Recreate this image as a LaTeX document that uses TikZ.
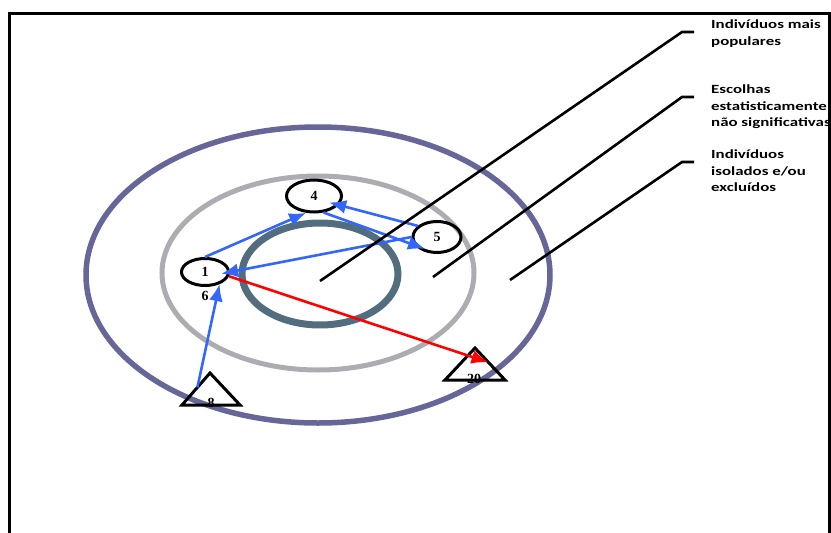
\documentclass[tikz,border=0pt]{standalone}
\usepackage{fontspec}
\newfontfamily\legendfont[FakeStretch=1.35]{Carlito}
\newfontfamily\digitfont{Liberation Serif}
\usetikzlibrary{calc,arrows.meta,shapes.geometric}
\definecolor{ringOuter}{RGB}{102,102,153}
\definecolor{ringMiddle}{RGB}{172,172,178}
\definecolor{ringInner}{RGB}{82,110,126}
\definecolor{choiceBlue}{RGB}{51,102,255}

\begin{document}
\begin{tikzpicture}[x=1pt, y=-1pt,
    every node/.style={font=\digitfont\fontsize{14}{16}\selectfont\bfseries},
    memberNode/.style={ellipse, draw, line width=3pt, inner sep=0pt},
    choiceArrow/.style={-{Latex[length=17pt,width=14pt]}, line width=2.6pt, choiceBlue},
    rejectArrow/.style={-{Latex[length=17pt,width=14pt]}, line width=2.6pt, red},
    triShape/.style={line width=3pt, line join=miter},
    legendText/.style={font=\legendfont\fontsize{12.5}{16.5}\selectfont\bfseries, align=left, anchor=north west, inner sep=0pt},
    leader/.style={line width=2.6pt}]

\useasboundingbox (0,0) rectangle (831,533);

% Frame (bottom edge off the page)
\draw[line width=3.5pt] (9.5,533) -- (9.5,13.5) -- (830,13.5) -- (830,533);

% Rings of the target
\draw[ringOuter, line width=5.5pt] (318,275) ellipse [x radius=232, y radius=148];
\draw[ringMiddle, line width=5pt] (318,273) ellipse [x radius=156, y radius=97];
\draw[ringInner, line width=7pt] (320,274) ellipse [x radius=78, y radius=51];

% Members
\node[memberNode, minimum width=47pt, minimum height=27pt] (n1) at (205,272) {1};
\node[memberNode, minimum width=55pt, minimum height=32pt] (n4) at (314,196) {4};
\node[memberNode, minimum width=48pt, minimum height=31pt] (n5) at (437,237) {5};
\node (n6) at (205,296) {6};

% Triangles (rejected ones)
\draw[triShape] (210,373) coordinate (a8) -- (240,405) coordinate (r8) -- (182,405) coordinate (l8) -- cycle;
\draw[triShape] (475,348) coordinate (a20) -- (505,380) coordinate (r20) -- (445,380) coordinate (l20) -- cycle;
\node (n8) at (211,403) {8};
\node[inner sep=0pt] (n20) at (474,379) {20};

% Choices
\draw[choiceArrow] (n1.north) -- (n4.-115);
\draw[choiceArrow, shorten >=-11pt] (n4.-60) -- (n5.200);
\draw[choiceArrow, shorten >=-10pt] (n5.150) -- (n4.-20);
\draw[choiceArrow, shorten >=-9pt] (n5.west) -- (n1.east);
\draw[choiceArrow] ($(a8)!0.45!(l8)$) -- (n1.-40);
\draw[rejectArrow] (n1.-10) -- ($(a20)!0.45!(r20)$);

% Legend
\node[legendText] (legA) at (711,20) {Indivíduos mais\\populares};
\node[legendText] (legB) at (711,85) {Escolhas\\estatisticamente\\não significativas};
\node[legendText] (legC) at (711,150) {Indivíduos\\isolados e/ou\\excluídos};

\coordinate (pinA) at (320,281);
\coordinate (pinB) at (433,277);
\coordinate (pinC) at (510,280);
\draw[leader] (pinA) -- (682,32) -- (694,32);
\draw[leader] (pinB) -- (682,97) -- (694,97);
\draw[leader] (pinC) -- (682,162) -- (694,162);

\end{tikzpicture}
\end{document}
